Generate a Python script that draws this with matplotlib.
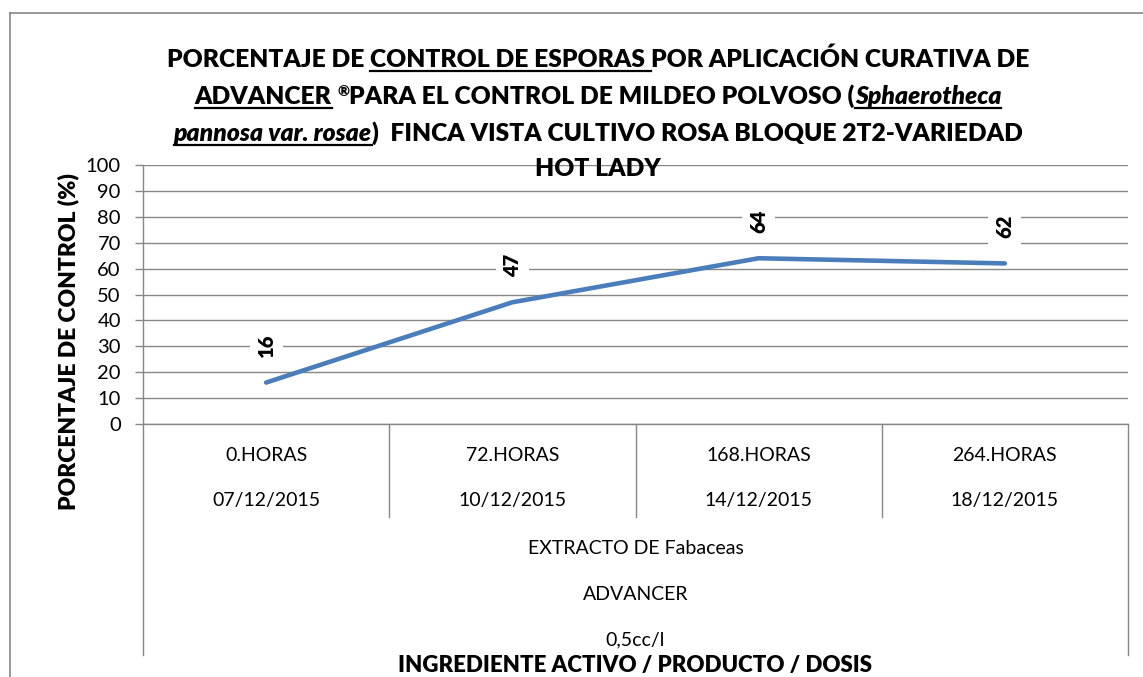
import numpy as np
import matplotlib
matplotlib.use("Agg")
import matplotlib.pyplot as plt
from matplotlib.lines import Line2D

plt.rcParams['font.family'] = ['Lato', 'DejaVu Sans']

# data
horas = ["0.HORAS", "72.HORAS", "168.HORAS", "264.HORAS"]
fechas = ["07/12/2015", "10/12/2015", "14/12/2015", "18/12/2015"]
control = [16, 47, 64, 62]
grupo = ["EXTRACTO DE Fabaceas", "ADVANCER", "0,5cc/l"]
y_ticks = list(range(0, 101, 10))

# title pieces: (text, italic, underline, superscript)
title_lines = [
    [("PORCENTAJE DE ", False, False, False),
     ("CONTROL DE ESPORAS ", False, True, False),
     ("POR APLICACIÓN CURATIVA DE", False, False, False)],
    [("ADVANCER", False, True, False),
     (" ", False, False, False),
     ("®", False, False, True),
     ("PARA EL CONTROL DE MILDEO POLVOSO (", False, False, False),
     ("Sphaerotheca", True, True, False)],
    [("pannosa var. rosae", True, True, False),
     (")  FINCA VISTA CULTIVO ROSA BLOQUE 2T2-VARIEDAD", False, False, False)],
    [("HOT LADY", False, False, False)],
]

W, H = 1143, 677
grey = "#878787"
BOLD = "heavy"
fig = plt.figure(figsize=(W / 100, H / 100), dpi=100)
fig.patch.set_facecolor("white")

# outer chart border (left and top only visible)
fig.add_artist(Line2D([10 / W, 10 / W], [1 - 13 / H, 0], color=grey, lw=1.2))
fig.add_artist(Line2D([10 / W, 1], [1 - 13 / H, 1 - 13 / H], color=grey, lw=1.2))

ax = fig.add_axes([143 / W, 1 - 424 / H, (1128 - 143) / W, (424 - 165) / H])
x = np.arange(len(control))

ax.plot(x, control, color="#4A7EBB", lw=3.3, solid_capstyle="round", zorder=3)
for xi, v in zip(x, control):
    ax.annotate(str(v), (xi, v), xytext=(0, 37), textcoords="offset pixels",
                rotation=90, ha="center", va="center", fontsize=14.5, fontweight=BOLD,
                bbox=dict(boxstyle="square,pad=0.35", fc="white", ec="none"), zorder=4)

ax.set_xlim(-0.5, len(control) - 0.5)
ax.set_ylim(0, 100)
ax.set_yticks(y_ticks)
ax.tick_params(axis="y", length=6, width=1, color=grey, labelsize=14.5, pad=10)
ax.set_xticks([])
ax.yaxis.grid(True, color=grey, lw=1)
ax.set_axisbelow(True)
for s in ["top", "right"]:
    ax.spines[s].set_visible(False)
for s in ["left", "bottom"]:
    ax.spines[s].set_color(grey)
    ax.spines[s].set_linewidth(1)

# multi-level category axis
tr = ax.get_xaxis_transform()
for b in np.arange(0.5, len(control) - 1, 1.0):
    ax.plot([b, b], [0, -0.359], color=grey, lw=1, transform=tr, clip_on=False)
for b in [-0.5, len(control) - 0.5]:
    ax.plot([b, b], [0, -0.892], color=grey, lw=1, transform=tr, clip_on=False)
for xi, h, f in zip(x, horas, fechas):
    ax.text(xi, -0.12, h, transform=tr, ha="center", va="center", fontsize=14)
    ax.text(xi, -0.297, f, transform=tr, ha="center", va="center", fontsize=14)
mid = (len(control) - 1) / 2
for yy, g in zip([-0.479, -0.66, -0.834], grupo):
    ax.text(mid, yy, g, transform=tr, ha="center", va="center", fontsize=14)
ax.text(mid, -0.934, "INGREDIENTE ACTIVO / PRODUCTO / DOSIS", transform=tr,
        ha="center", va="center", fontsize=16, fontweight=BOLD)

fig.text(68 / W, 1 - 342 / H, "PORCENTAJE DE CONTROL (%)", rotation=90,
         ha="center", va="center", fontsize=16.5, fontweight=BOLD)

# title drawn piece by piece so underline / italics work
renderer = fig.canvas.get_renderer()


def make_piece(txt, it, sup, size):
    return fig.text(0, 0, txt, fontsize=size * (0.6 if sup else 1.0),
                    fontweight=BOLD, fontstyle="italic" if it else "normal",
                    ha="left", va="baseline")


def line_width(pieces, size):
    tot = 0
    for txt, it, ul, sup in pieces:
        t = make_piece(txt, it, sup, size)
        tot += t.get_window_extent(renderer).width
        t.remove()
    return tot


tsize = 10 * 863 / line_width(title_lines[0], 10)
baselines = [67, 104, 141, 176]
cx = 598
for pieces, base in zip(title_lines, baselines):
    xpos = cx - line_width(pieces, tsize) / 2
    for txt, it, ul, sup in pieces:
        t = make_piece(txt, it, sup, tsize)
        yb = base - (8 if sup else 0)
        t.set_position((xpos / W, 1 - yb / H))
        w = t.get_window_extent(renderer).width
        if ul:
            fig.add_artist(Line2D([xpos / W, (xpos + w) / W], [1 - (base + 4) / H] * 2,
                                  color="black", lw=1.6))
        xpos += w

fig.savefig("out.png", dpi=100)
